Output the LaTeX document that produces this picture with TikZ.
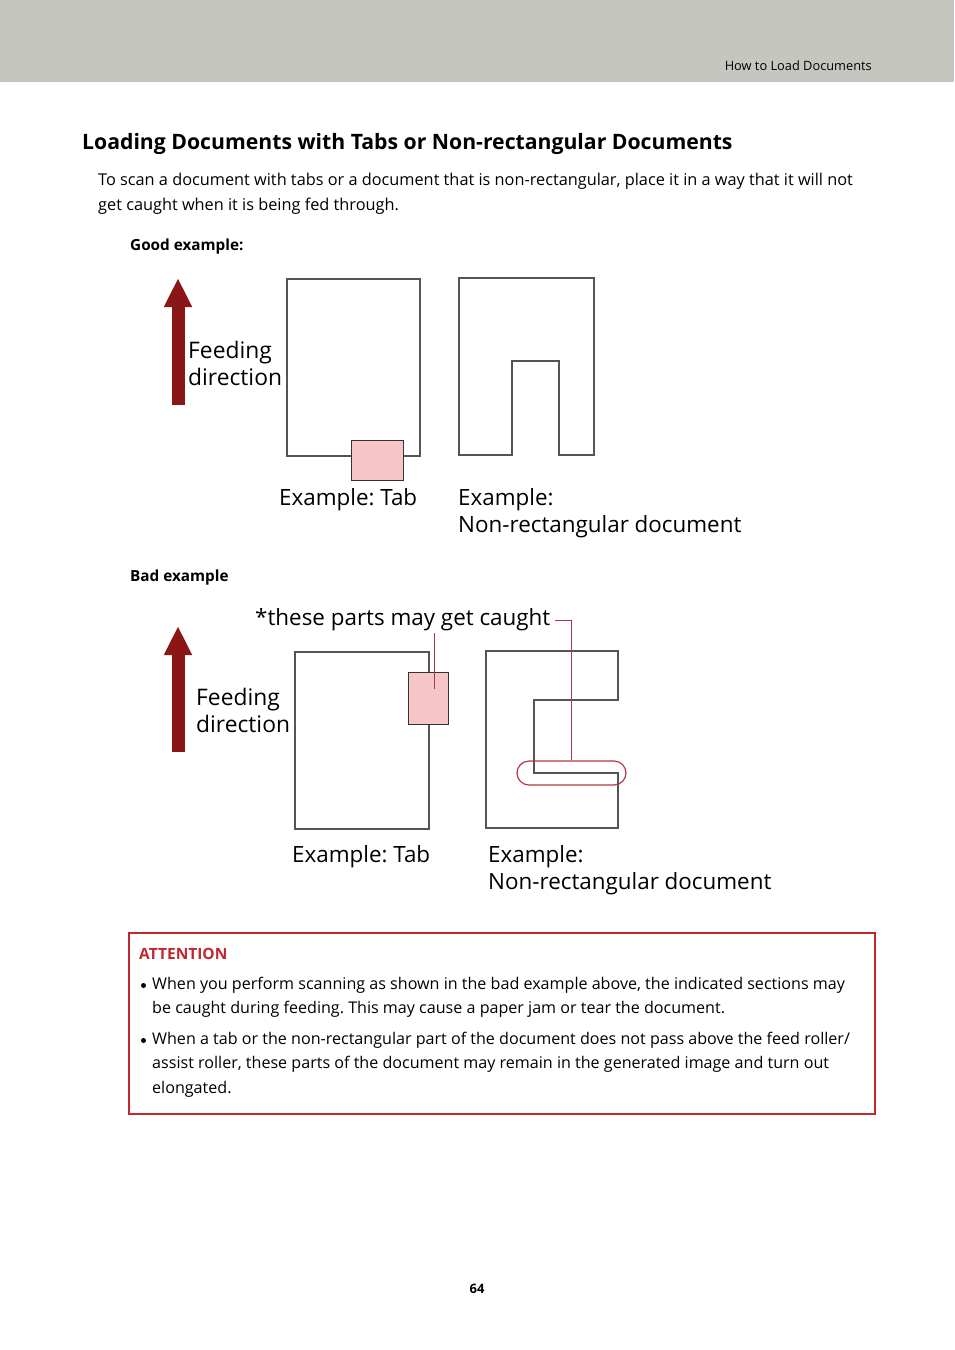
\documentclass[tikz,border=0pt]{standalone}
\usepackage{fontspec}
\setmainfont{Open Sans}
\setsansfont{Open Sans}
\usepackage{tikz}
\usetikzlibrary{arrows.meta, positioning}
\tikzset{every node/.style={font=\sffamily}}
\usepackage{xcolor}
\definecolor{headgray}{HTML}{C6C6C0}
\definecolor{feedred}{HTML}{8A1616}
\definecolor{tabpink}{HTML}{F6C6C6}
\definecolor{docgray}{HTML}{555555}
\definecolor{attnred}{HTML}{C1272D}
\definecolor{catchred}{HTML}{B03844}
\newcommand{\pxfont}[2]{\sffamily\fontsize{#1}{#2}\selectfont}
\frenchspacing

\begin{document}
\begin{tikzpicture}[x=1pt, y=-1pt,
    docbox/.style={draw=docgray, line width=1.6pt, inner sep=0pt, anchor=north west},
    tabbox/.style={draw=black!80, fill=tabpink, line width=1.4pt, inner sep=0pt, anchor=north west},
    docline/.style={draw=docgray, line width=1.6pt},
    feedarrow/.style={draw=feedred, line width=13pt, -{Triangle[width=26pt, length=29pt]}},
    feedlbl/.style={anchor=west, align=left, inner sep=1pt, font=\pxfont{22.8}{27}},
    exlbl/.style={anchor=west, align=left, inner sep=0pt, font=\pxfont{22.4}{27}},
    callout/.style={draw=catchred, line width=1pt},
    dotmark/.style={circle, fill=black, inner sep=0pt, minimum size=5pt},
    bodytxt/.style={anchor=west, align=left, inner sep=0pt, font=\pxfont{16.1}{24.5}}]
    \useasboundingbox (0,0) rectangle (954,1350);
    % header band
    \fill[headgray] (0,0) rectangle (954,82);
    \node[anchor=east, inner sep=0pt, font=\pxfont{12.8}{15}] (runhead) at (872,65.5) {How to Load Documents};
    \node[anchor=west, inner sep=0pt, font=\pxfont{21.2}{25}\bfseries] (title) at (82,144)
      {Loading Documents with Tabs or Non-rectangular Documents};
    \node[bodytxt, font=\pxfont{16.3}{25}] (intro) at (98,193.5)
      {To scan a document with tabs or a document that is non-rectangular, place it in a way that it will not\\
       get caught when it is being fed through.};

    % good example
    \node[bodytxt, font=\pxfont{15.3}{18}\bfseries] (goodhd) at (130,247) {Good example:};
    \coordinate (gfeed0) at (178,405);
    \coordinate (gfeed1) at (178,278);
    \draw[feedarrow] (gfeed0) -- (gfeed1);
    \node[feedlbl] (gfeedlbl) at (187,363.5) {Feeding\\direction};
    \node[docbox, minimum width=133pt, minimum height=177pt] (gdoc) at (286,278) {};
    \node[tabbox, minimum width=52pt, minimum height=40pt] (gtab) at (351,440) {};
    \draw[docline] (459,278) -- (594,278) -- (594,455) -- (559,455) -- (559,361)
      -- (512,361) -- (512,455) -- (459,455) -- cycle;
    \node[exlbl] (gtablbl) at (279,500) {Example: Tab};
    \node[exlbl] (gshapelbl) at (458,513.5) {Example:\\Non-rectangular document};

    % bad example
    \node[bodytxt, font=\pxfont{15.3}{18}\bfseries] (badhd) at (130,578) {Bad example};
    \coordinate (bfeed0) at (178,752);
    \coordinate (bfeed1) at (178,626);
    \draw[feedarrow] (bfeed0) -- (bfeed1);
    \node[feedlbl] (bfeedlbl) at (195,710.5) {Feeding\\direction};
    \node[exlbl, inner sep=1pt] (caught) at (254,620) {*these parts may get caught};
    \node[docbox, minimum width=134pt, minimum height=177pt] (bdoc) at (294,651) {};
    \node[tabbox, minimum width=40pt, minimum height=52pt] (btab) at (408,672) {};
    \draw[docline] (486,651) -- (618,651) -- (618,700) -- (534,700) -- (534,773)
      -- (618,773) -- (618,828) -- (486,828) -- cycle;
    \node[draw=catchred, line width=1.2pt, rounded corners=12pt, minimum width=109pt,
      minimum height=24pt, inner sep=0pt] (oval) at (571.5,773) {};
    \coordinate (tabtip) at (434,633);
    \draw[callout] (tabtip) -- (tabtip |- 0,689);
    \draw[callout] ([xshift=3pt]caught.east) -| (oval.north);
    \node[exlbl] (btablbl) at (292,857) {Example: Tab};
    \node[exlbl] (bshapelbl) at (488,870) {Example:\\Non-rectangular document};

    % attention box
    \node[draw=attnred, line width=2pt, anchor=north west, inner sep=0pt,
      minimum width=746pt, minimum height=181pt] (attn) at (128,932) {};
    \node[bodytxt, text=attnred, font=\pxfont{15.5}{18}\bfseries] (attnhd) at (139,953.5) {ATTENTION};
    \node[dotmark] (dot1) at (143.5,985.5) {};
    \node[bodytxt] (item1) at (152,997.5)
      {When you perform scanning as shown in the bad example above, the indicated sections may\\
       be caught during feeding. This may cause a paper jam or tear the document.};
    \node[dotmark] (dot2) at (143.5,1040.5) {};
    \node[bodytxt] (item2) at (152,1064.5)
      {When a tab or the non-rectangular part of the document does not pass above the feed roller/\\
       assist roller, these parts of the document may remain in the generated image and turn out\\
       elongated.};

    \node[inner sep=0pt, font=\pxfont{13}{16}\bfseries] (pageno) at (477,1289) {64};
  \end{tikzpicture}
\end{document}
